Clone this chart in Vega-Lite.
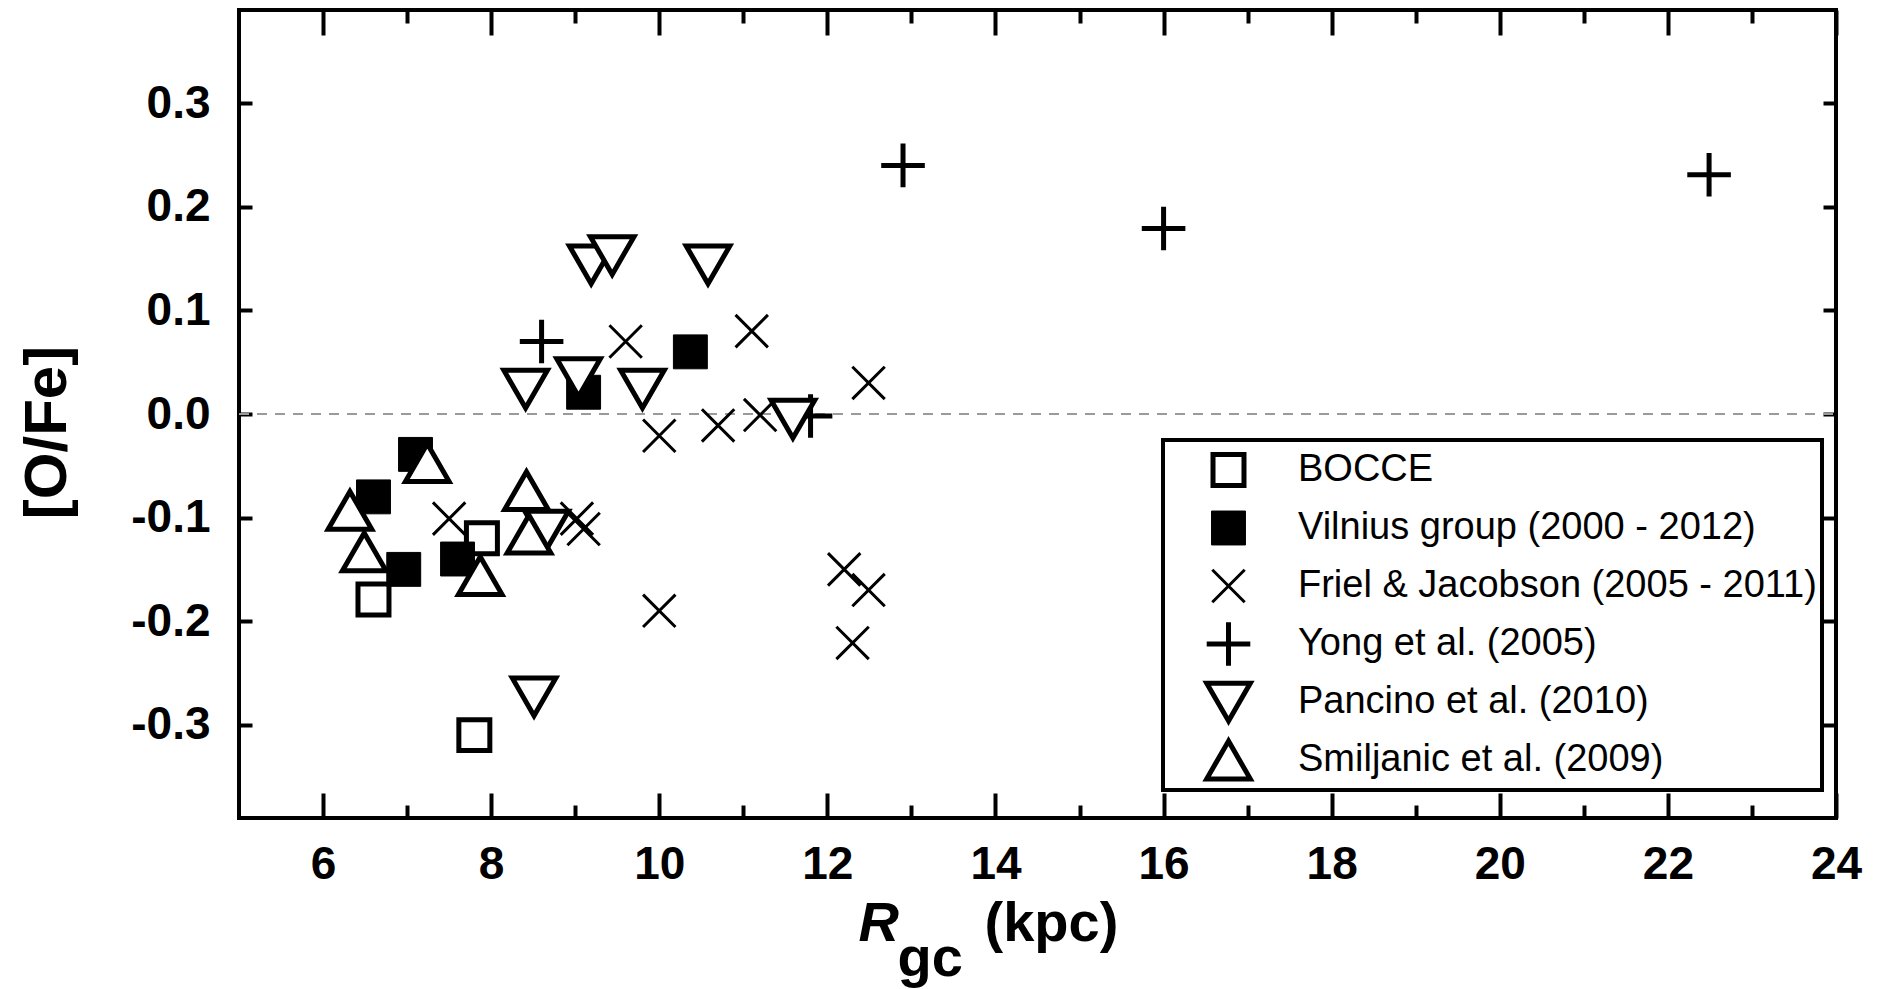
{
  "$schema": "https://vega.github.io/schema/vega-lite/v6.json",
  "width": 1597,
  "height": 808,
  "autosize": {"type": "none"},
  "padding": {"left": 239, "top": 10, "right": 45, "bottom": 171},
  "background": "white",
  "config": {
    "view": {"stroke": "black", "strokeWidth": 4},
    "axis": {
      "domain": false, "grid": false, "tickColor": "black", "tickWidth": 4,
      "labelFont": "Liberation Sans", "labelFontWeight": "bold", "labelFontSize": 46, "labelColor": "black",
      "labelFlush": false, "labelOverlap": false,
      "titleFont": "Liberation Sans", "titleFontWeight": "bold", "titleColor": "black", "titleFontSize": 56
    },
    "legend": {"strokeWidth": 4}
  },
  "resolve": {"axis": {"x": "independent", "y": "independent"}},
  "layer": [
    {
      "data": {"values": [{}]},
      "mark": {"type": "rule", "color": "#9a9a9a", "strokeDash": [10, 8], "strokeWidth": 2},
      "encoding": {
        "x": {"datum": 5, "type": "quantitative", "scale": {"domain": [5, 24], "nice": false, "zero": false},
          "axis": {"orient": "bottom", "values": [6, 8, 10, 12, 14, 16, 18, 20, 22, 24], "format": "d", "tickSize": -25, "labelPadding": 49,
            "title": "R", "titleFontStyle": "italic", "titleX": 619, "titleY": 122, "titleAlign": "left", "titleBaseline": "alphabetic"}},
        "x2": {"datum": 24},
        "y": {"datum": 0, "type": "quantitative", "scale": {"domain": [-0.39, 0.39], "nice": false, "zero": false},
          "axis": {"orient": "left", "values": [-0.3, -0.2, -0.1, 0, 0.1, 0.2, 0.3], "tickSize": -13, "labelPadding": 42,
            "labelExpr": "(datum.value < 0 ? '-' : '') + format(abs(datum.value), '.1f')",
            "title": "[O/Fe]", "titleFontSize": 60, "titleAngle": 270, "titleX": -192, "titleY": 422, "titleAlign": "center", "titleBaseline": "middle"}}
      }
    },
    {
      "data": {"values": [{}]},
      "mark": {"type": "rule", "opacity": 0},
      "encoding": {
        "x": {"datum": 5, "type": "quantitative", "scale": {"domain": [5, 24], "nice": false, "zero": false},
          "axis": {"orient": "bottom", "values": [7, 9, 11, 13, 15, 17, 19, 21, 23], "tickSize": -13, "labels": false,
            "title": "gc", "titleX": 658, "titleY": 157, "titleAlign": "left", "titleBaseline": "alphabetic"}},
        "x2": {"datum": 24},
        "y": {"datum": 0, "type": "quantitative", "scale": {"domain": [-0.39, 0.39], "nice": false, "zero": false}, "axis": null}
      }
    },
    {
      "data": {"values": [{}]},
      "mark": {"type": "rule", "opacity": 0},
      "encoding": {
        "x": {"datum": 5, "type": "quantitative", "scale": {"domain": [5, 24], "nice": false, "zero": false},
          "axis": {"orient": "top", "values": [7, 9, 11, 13, 15, 17, 19, 21, 23], "tickSize": -13, "labels": false,
            "title": "(kpc)", "titleX": 745, "titleY": 930, "titleAlign": "left", "titleBaseline": "alphabetic"}},
        "x2": {"datum": 24},
        "y": {"datum": 0, "type": "quantitative", "scale": {"domain": [-0.39, 0.39], "nice": false, "zero": false}, "axis": null}
      }
    },
    {
      "data": {"values": [
        {"series": "BOCCE", "R": 6.6, "OFe": -0.179},
        {"series": "BOCCE", "R": 7.8, "OFe": -0.31},
        {"series": "BOCCE", "R": 7.89, "OFe": -0.12},
        {"series": "Vilnius group (2000 - 2012)", "R": 6.6, "OFe": -0.08},
        {"series": "Vilnius group (2000 - 2012)", "R": 6.96, "OFe": -0.15},
        {"series": "Vilnius group (2000 - 2012)", "R": 7.1, "OFe": -0.039},
        {"series": "Vilnius group (2000 - 2012)", "R": 7.6, "OFe": -0.14},
        {"series": "Vilnius group (2000 - 2012)", "R": 9.1, "OFe": 0.021},
        {"series": "Vilnius group (2000 - 2012)", "R": 10.37, "OFe": 0.06},
        {"series": "Friel & Jacobson (2005 - 2011)", "R": 7.5, "OFe": -0.101},
        {"series": "Friel & Jacobson (2005 - 2011)", "R": 9.02, "OFe": -0.101},
        {"series": "Friel & Jacobson (2005 - 2011)", "R": 9.1, "OFe": -0.111},
        {"series": "Friel & Jacobson (2005 - 2011)", "R": 9.6, "OFe": 0.07},
        {"series": "Friel & Jacobson (2005 - 2011)", "R": 10.0, "OFe": -0.021},
        {"series": "Friel & Jacobson (2005 - 2011)", "R": 10.0, "OFe": -0.19},
        {"series": "Friel & Jacobson (2005 - 2011)", "R": 10.7, "OFe": -0.011},
        {"series": "Friel & Jacobson (2005 - 2011)", "R": 11.1, "OFe": 0.08},
        {"series": "Friel & Jacobson (2005 - 2011)", "R": 11.2, "OFe": -0.001},
        {"series": "Friel & Jacobson (2005 - 2011)", "R": 12.2, "OFe": -0.15},
        {"series": "Friel & Jacobson (2005 - 2011)", "R": 12.3, "OFe": -0.221},
        {"series": "Friel & Jacobson (2005 - 2011)", "R": 12.49, "OFe": -0.17},
        {"series": "Friel & Jacobson (2005 - 2011)", "R": 12.49, "OFe": 0.03},
        {"series": "Yong et al. (2005)", "R": 8.6, "OFe": 0.07},
        {"series": "Yong et al. (2005)", "R": 11.8, "OFe": -0.002},
        {"series": "Yong et al. (2005)", "R": 12.9, "OFe": 0.24},
        {"series": "Yong et al. (2005)", "R": 16.0, "OFe": 0.179},
        {"series": "Yong et al. (2005)", "R": 22.49, "OFe": 0.231},
        {"series": "Pancino et al. (2010)", "R": 9.19, "OFe": 0.144},
        {"series": "Pancino et al. (2010)", "R": 9.44, "OFe": 0.153},
        {"series": "Pancino et al. (2010)", "R": 10.58, "OFe": 0.144},
        {"series": "Pancino et al. (2010)", "R": 8.41, "OFe": 0.024},
        {"series": "Pancino et al. (2010)", "R": 9.04, "OFe": 0.035},
        {"series": "Pancino et al. (2010)", "R": 9.8, "OFe": 0.024},
        {"series": "Pancino et al. (2010)", "R": 11.59, "OFe": -0.005},
        {"series": "Pancino et al. (2010)", "R": 8.66, "OFe": -0.112},
        {"series": "Pancino et al. (2010)", "R": 8.51, "OFe": -0.273},
        {"series": "Smiljanic et al. (2009)", "R": 6.32, "OFe": -0.093},
        {"series": "Smiljanic et al. (2009)", "R": 6.49, "OFe": -0.133},
        {"series": "Smiljanic et al. (2009)", "R": 7.24, "OFe": -0.047},
        {"series": "Smiljanic et al. (2009)", "R": 7.87, "OFe": -0.156},
        {"series": "Smiljanic et al. (2009)", "R": 8.42, "OFe": -0.074},
        {"series": "Smiljanic et al. (2009)", "R": 8.45, "OFe": -0.116}
      ]},
      "mark": {"type": "point", "opacity": 1, "strokeJoin": "miter", "strokeCap": "butt"},
      "encoding": {
        "x": {"field": "R", "type": "quantitative", "scale": {"domain": [5, 24], "nice": false, "zero": false},
          "axis": {"orient": "top", "values": [6, 8, 10, 12, 14, 16, 18, 20, 22, 24], "tickSize": -25, "labels": false, "title": null}},
        "y": {"field": "OFe", "type": "quantitative", "scale": {"domain": [-0.39, 0.39], "nice": false, "zero": false},
          "axis": {"orient": "right", "values": [-0.3, -0.2, -0.1, 0, 0.1, 0.2, 0.3], "tickSize": -13, "labels": false, "title": null}},
        "shape": {"field": "series", "type": "nominal",
          "scale": {"domain": ["BOCCE", "Vilnius group (2000 - 2012)", "Friel & Jacobson (2005 - 2011)", "Yong et al. (2005)", "Pancino et al. (2010)", "Smiljanic et al. (2009)"],
            "range": ["square", "square", "M-1,-1L1,1M-1,1L1,-1", "M-1,0L1,0M0,-1L0,1", "triangle-down", "triangle-up"]},
          "legend": {"title": null, "orient": "none", "legendX": 924, "legendY": 430, "padding": 5, "rowPadding": 8, "clipHeight": 50, "symbolOffset": 36, "labelOffset": 45,
            "labelFont": "Liberation Sans", "labelFontSize": 38, "labelColor": "black", "labelLimit": 800, "strokeColor": "black", "fillColor": "white", "symbolStrokeColor": "black", "symbolOpacity": 1}},
        "stroke": {"field": "series", "type": "nominal",
          "scale": {"domain": ["BOCCE", "Vilnius group (2000 - 2012)", "Friel & Jacobson (2005 - 2011)", "Yong et al. (2005)", "Pancino et al. (2010)", "Smiljanic et al. (2009)"],
            "range": ["black", "black", "black", "black", "black", "black"]},
          "legend": {"title": null, "orient": "none", "legendX": 924, "legendY": 430, "padding": 5, "rowPadding": 8, "clipHeight": 50, "symbolOffset": 36, "labelOffset": 45,
            "labelFont": "Liberation Sans", "labelFontSize": 38, "labelColor": "black", "labelLimit": 800, "strokeColor": "black", "fillColor": "white", "symbolStrokeColor": "black", "symbolOpacity": 1}},
        "fill": {"field": "series", "type": "nominal",
          "scale": {"domain": ["BOCCE", "Vilnius group (2000 - 2012)", "Friel & Jacobson (2005 - 2011)", "Yong et al. (2005)", "Pancino et al. (2010)", "Smiljanic et al. (2009)"],
            "range": ["white", "black", "transparent", "transparent", "white", "white"]},
          "legend": {"title": null, "orient": "none", "legendX": 924, "legendY": 430, "padding": 5, "rowPadding": 8, "clipHeight": 50, "symbolOffset": 36, "labelOffset": 45,
            "labelFont": "Liberation Sans", "labelFontSize": 38, "labelColor": "black", "labelLimit": 800, "strokeColor": "black", "fillColor": "white", "symbolStrokeColor": "black", "symbolOpacity": 1}},
        "size": {"field": "series", "type": "nominal",
          "scale": {"type": "ordinal", "domain": ["BOCCE", "Vilnius group (2000 - 2012)", "Friel & Jacobson (2005 - 2011)", "Yong et al. (2005)", "Pancino et al. (2010)", "Smiljanic et al. (2009)"],
            "range": [960, 1150, 1050, 1900, 1900, 1900]},
          "legend": {"title": null, "orient": "none", "legendX": 924, "legendY": 430, "padding": 5, "rowPadding": 8, "clipHeight": 50, "symbolOffset": 36, "labelOffset": 45,
            "labelFont": "Liberation Sans", "labelFontSize": 38, "labelColor": "black", "labelLimit": 800, "strokeColor": "black", "fillColor": "white", "symbolStrokeColor": "black", "symbolOpacity": 1}},
        "strokeWidth": {"field": "series", "type": "nominal",
          "scale": {"type": "ordinal", "domain": ["BOCCE", "Vilnius group (2000 - 2012)", "Friel & Jacobson (2005 - 2011)", "Yong et al. (2005)", "Pancino et al. (2010)", "Smiljanic et al. (2009)"],
            "range": [5, 1, 3, 5, 5, 5]},
          "legend": {"title": null, "orient": "none", "legendX": 924, "legendY": 430, "padding": 5, "rowPadding": 8, "clipHeight": 50, "symbolOffset": 36, "labelOffset": 45,
            "labelFont": "Liberation Sans", "labelFontSize": 38, "labelColor": "black", "labelLimit": 800, "strokeColor": "black", "fillColor": "white", "symbolStrokeColor": "black", "symbolOpacity": 1}}
      }
    }
  ]
}
